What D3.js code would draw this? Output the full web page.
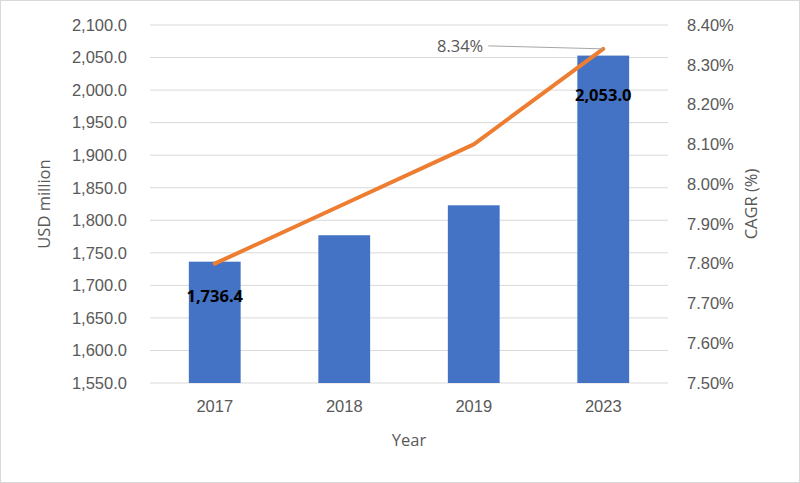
<!DOCTYPE html>
<html>
<head>
<meta charset="utf-8">
<script src="https://cdn.jsdelivr.net/npm/d3@7"></script>
<style>
  html, body { margin: 0; padding: 0; background: #fff; }
  svg { display: block; font-family: "Open Sans", sans-serif; }
</style>
</head>
<body>
<svg id="chart" width="800" height="483"></svg>
<script>
const years = ['2017', '2018', '2019', '2023'];
const marketSize = [1736.4, 1777, 1823, 2053.0];   // USD million (bars)
const cagr = [7.80, 7.95, 8.10, 8.34];              // % (line)
const leftTicks = [1550, 1600, 1650, 1700, 1750, 1800, 1850, 1900, 1950, 2000, 2050, 2100];
const rightTicks = [7.5, 7.6, 7.7, 7.8, 7.9, 8.0, 8.1, 8.2, 8.3, 8.4];

const W = 800, H = 483;
const m = { top: 25, right: 132, bottom: 100, left: 150 };
const iw = W - m.left - m.right, ih = H - m.top - m.bottom;
const FS = '16.5px';

const svg = d3.select('#chart');
const grey = '#595959';

// chart border
svg.append('rect')
  .attr('x', 0.5).attr('y', 0.5)
  .attr('width', W - 1).attr('height', H - 1)
  .attr('fill', '#fff').attr('stroke', '#d9d9d9');

const g = svg.append('g').attr('transform', `translate(${m.left},${m.top})`);

const x = d3.scaleBand().domain(years).range([0, iw]).paddingInner(0.6).paddingOuter(0.3);
const y = d3.scaleLinear().domain([1550, 2100]).range([ih, 0]);
const y2 = d3.scaleLinear().domain([7.5, 8.4]).range([ih, 0]);

// gridlines
g.append('g')
  .selectAll('line').data(leftTicks).join('line')
  .attr('x1', 0).attr('x2', iw)
  .attr('y1', d => y(d)).attr('y2', d => y(d))
  .attr('stroke', '#d9d9d9').attr('stroke-width', 1);

// left axis
const yAxis = g.append('g')
  .call(d3.axisLeft(y).tickValues(leftTicks).tickSize(0).tickPadding(23)
    .tickFormat(d3.format(',.1f')));
yAxis.select('.domain').remove();
yAxis.selectAll('text').attr('fill', grey).attr('font-size', FS);

// right axis
const y2Axis = g.append('g').attr('transform', `translate(${iw},0)`)
  .call(d3.axisRight(y2).tickValues(rightTicks).tickSize(0).tickPadding(19)
    .tickFormat(d => d3.format('.2f')(d) + '%'));
y2Axis.select('.domain').remove();
y2Axis.selectAll('text').attr('fill', grey).attr('font-size', FS);

// bottom axis
const xAxis = g.append('g').attr('transform', `translate(0,${ih})`)
  .call(d3.axisBottom(x).tickSize(0).tickPadding(17));
xAxis.select('.domain').remove();
xAxis.selectAll('text').attr('fill', grey).attr('font-size', FS);

// bars
g.append('g')
  .selectAll('rect').data(years).join('rect')
  .attr('x', d => x(d))
  .attr('y', (d, i) => y(marketSize[i]))
  .attr('width', x.bandwidth())
  .attr('height', (d, i) => ih - y(marketSize[i]))
  .attr('fill', '#4472c4');

// CAGR line
const line = d3.line()
  .x((d, i) => x(years[i]) + x.bandwidth() / 2)
  .y(d => y2(d));
g.append('path')
  .datum(cagr)
  .attr('d', line)
  .attr('fill', 'none')
  .attr('stroke', '#ed7d31')
  .attr('stroke-width', 4)
  .attr('stroke-linejoin', 'round')
  .attr('stroke-linecap', 'round');

// bar data labels (first and last)
[0, 3].forEach(i => {
  g.append('text')
    .attr('x', x(years[i]) + x.bandwidth() / 2)
    .attr('y', i === 0 ? y(marketSize[i]) + 40 : y(marketSize[i]) + 45)
    .attr('text-anchor', 'middle')
    .attr('font-size', FS)
    .attr('font-weight', 'bold')
    .attr('fill', '#000')
    .text(d3.format(',.1f')(marketSize[i]));
});

// 8.34% label with leader line
const lx = x(years[3]) + x.bandwidth() / 2, ly = y2(cagr[3]);
g.append('line')
  .attr('x1', lx).attr('y1', ly)
  .attr('x2', lx - 115).attr('y2', ly - 3)
  .attr('stroke', '#a6a6a6').attr('stroke-width', 1);
g.append('text')
  .attr('x', lx - 120).attr('y', ly + 3)
  .attr('text-anchor', 'end')
  .attr('font-size', FS)
  .attr('fill', grey)
  .text(d3.format('.2f')(cagr[3]) + '%');

// axis titles
svg.append('text')
  .attr('transform', `translate(50,${m.top + ih / 2}) rotate(-90)`)
  .attr('text-anchor', 'middle')
  .attr('font-size', FS).attr('fill', grey)
  .text('USD million');
svg.append('text')
  .attr('transform', `translate(757,${m.top + ih / 2}) rotate(-90)`)
  .attr('text-anchor', 'middle')
  .attr('font-size', FS).attr('fill', grey)
  .text('CAGR (%)');
svg.append('text')
  .attr('x', m.left + iw / 2).attr('y', 446)
  .attr('text-anchor', 'middle')
  .attr('font-size', FS).attr('fill', grey)
  .text('Year');
</script>
</body>
</html>
